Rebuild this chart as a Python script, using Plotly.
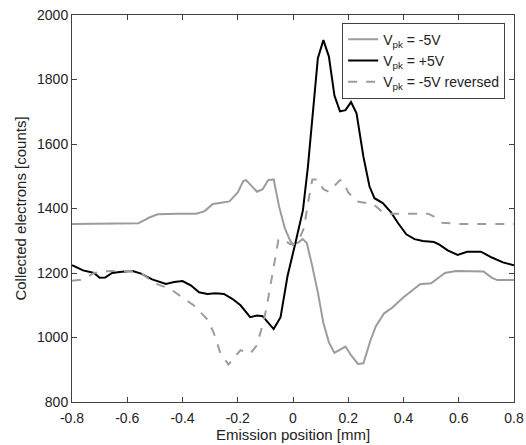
import plotly.graph_objects as go

# Vpk = -5V (grey solid)
x_neg = [-0.80, -0.70, -0.60, -0.56, -0.52, -0.49, -0.42, -0.35, -0.32, -0.29, -0.26, -0.23,
         -0.20, -0.18, -0.17, -0.15, -0.13, -0.11, -0.09, -0.07, -0.05, -0.03, -0.01, 0.00,
         0.02, 0.035, 0.05, 0.07, 0.09, 0.11, 0.13, 0.15, 0.17, 0.19, 0.21, 0.235, 0.255,
         0.28, 0.30, 0.33, 0.36, 0.40, 0.43, 0.46, 0.50, 0.52, 0.55, 0.59, 0.65, 0.69, 0.72,
         0.74, 0.80]
y_neg = [1352, 1352, 1352, 1354, 1372, 1382, 1384, 1384, 1392, 1414, 1418, 1422,
         1450, 1485, 1488, 1470, 1452, 1460, 1488, 1490, 1405, 1340, 1300, 1288,
         1295, 1305, 1293, 1220, 1140, 1045, 985, 952, 962, 972, 945, 918, 920,
         990, 1035, 1075, 1093, 1125, 1145, 1165, 1168, 1180, 1200, 1206, 1206, 1205, 1185,
         1178, 1178]

# Vpk = +5V (black solid)
x_pos = [-0.80, -0.76, -0.72, -0.70, -0.68, -0.655, -0.62, -0.58, -0.55, -0.51, -0.46, -0.43,
         -0.40, -0.37, -0.34, -0.31, -0.28, -0.25, -0.22, -0.19, -0.155, -0.13, -0.11, -0.07,
         -0.045, -0.02, 0.007, 0.036, 0.054, 0.072, 0.09, 0.11, 0.13, 0.15, 0.17, 0.19, 0.21,
         0.23, 0.255, 0.277, 0.295, 0.325, 0.355, 0.38, 0.41, 0.44, 0.47, 0.51, 0.53, 0.56,
         0.596, 0.63, 0.68, 0.72, 0.76, 0.80]
y_pos = [1224, 1208, 1200, 1185, 1186, 1200, 1204, 1206, 1198, 1180, 1166, 1172,
         1175, 1162, 1140, 1135, 1137, 1135, 1120, 1100, 1063, 1068, 1066, 1026,
         1063, 1190, 1287, 1395, 1530, 1700, 1866, 1922, 1871, 1750, 1701, 1705, 1730,
         1695, 1560, 1468, 1432, 1417, 1388, 1355, 1320, 1305, 1299, 1296, 1288, 1270,
         1256, 1266, 1266, 1248, 1233, 1224]

# Vpk = -5V reversed (grey dashed)
x_rev = [-0.80, -0.76, -0.72, -0.69, -0.65, -0.59, -0.55, -0.52, -0.50, -0.445, -0.40, -0.36,
         -0.336, -0.312, -0.288, -0.264, -0.234, -0.21, -0.19, -0.155, -0.131, -0.107, -0.095,
         -0.053, -0.036, -0.011, 0.00, 0.02, 0.04, 0.055, 0.07, 0.09, 0.11, 0.13, 0.15, 0.17,
         0.18, 0.20, 0.23, 0.26, 0.29, 0.32, 0.35, 0.42, 0.49, 0.51, 0.54, 0.60, 0.80]
y_rev = [1176, 1180, 1200, 1205, 1206, 1206, 1200, 1180, 1168, 1151, 1125, 1100,
         1079, 1058, 1017, 955, 916, 940, 961, 950, 976, 1048, 1096,
         1302, 1305, 1290, 1288, 1300, 1340, 1420, 1490, 1490, 1460, 1452, 1470, 1488,
         1485, 1450, 1422, 1418, 1414, 1392, 1384, 1384, 1384, 1375, 1356, 1352, 1352]

x_ticks = [-0.8, -0.6, -0.4, -0.2, 0, 0.2, 0.4, 0.6, 0.8]
x_tick_text = ["-0.8", "-0.6", "-0.4", "-0.2", "0", "0.2", "0.4", "0.6", "0.8"]
y_ticks = [800, 1000, 1200, 1400, 1600, 1800, 2000]

GREY = "#9c9c9c"
FONT = "Liberation Sans, Arial, sans-serif"

fig = go.Figure()
fig.add_trace(go.Scatter(x=x_neg, y=y_neg, mode="lines", name="V<sub>pk</sub> = -5V",
                         line=dict(color=GREY, width=2)))
fig.add_trace(go.Scatter(x=x_pos, y=y_pos, mode="lines", name="V<sub>pk</sub> = +5V",
                         line=dict(color="#000000", width=2)))
fig.add_trace(go.Scatter(x=x_rev, y=y_rev, mode="lines", name="V<sub>pk</sub> = -5V reversed",
                         line=dict(color=GREY, width=2, dash="dash")))

axis_common = dict(showline=True, linecolor="#404040", linewidth=1, mirror="ticks",
                   ticks="inside", ticklen=5, tickcolor="#404040", showgrid=False,
                   zeroline=False, automargin=False,
                   tickfont=dict(size=14, color="#222222", family=FONT),
                   title_font=dict(size=15, color="#222222", family=FONT))

fig.update_xaxes(range=[-0.8, 0.8], tickvals=x_ticks, ticktext=x_tick_text,
                 ticklabelstandoff=3,
                 title_text="Emission position [mm]", title_standoff=2, **axis_common)
fig.update_yaxes(range=[800, 2000], tickvals=y_ticks,
                 title_text="Collected electrons [counts]", title_standoff=6, **axis_common)

fig.update_layout(
    width=526, height=445,
    margin=dict(l=72, r=12, t=15, b=43, autoexpand=False),
    plot_bgcolor="white", paper_bgcolor="white",
    font=dict(family=FONT, size=14, color="#222222"),
    showlegend=True,
    legend=dict(x=0.98, y=0.98, xanchor="right", yanchor="top",
                bgcolor="white", bordercolor="#404040", borderwidth=1,
                font=dict(size=14, family=FONT, color="#222222"),
                tracegroupgap=0, itemwidth=30),
)

fig.write_html("out.html")
